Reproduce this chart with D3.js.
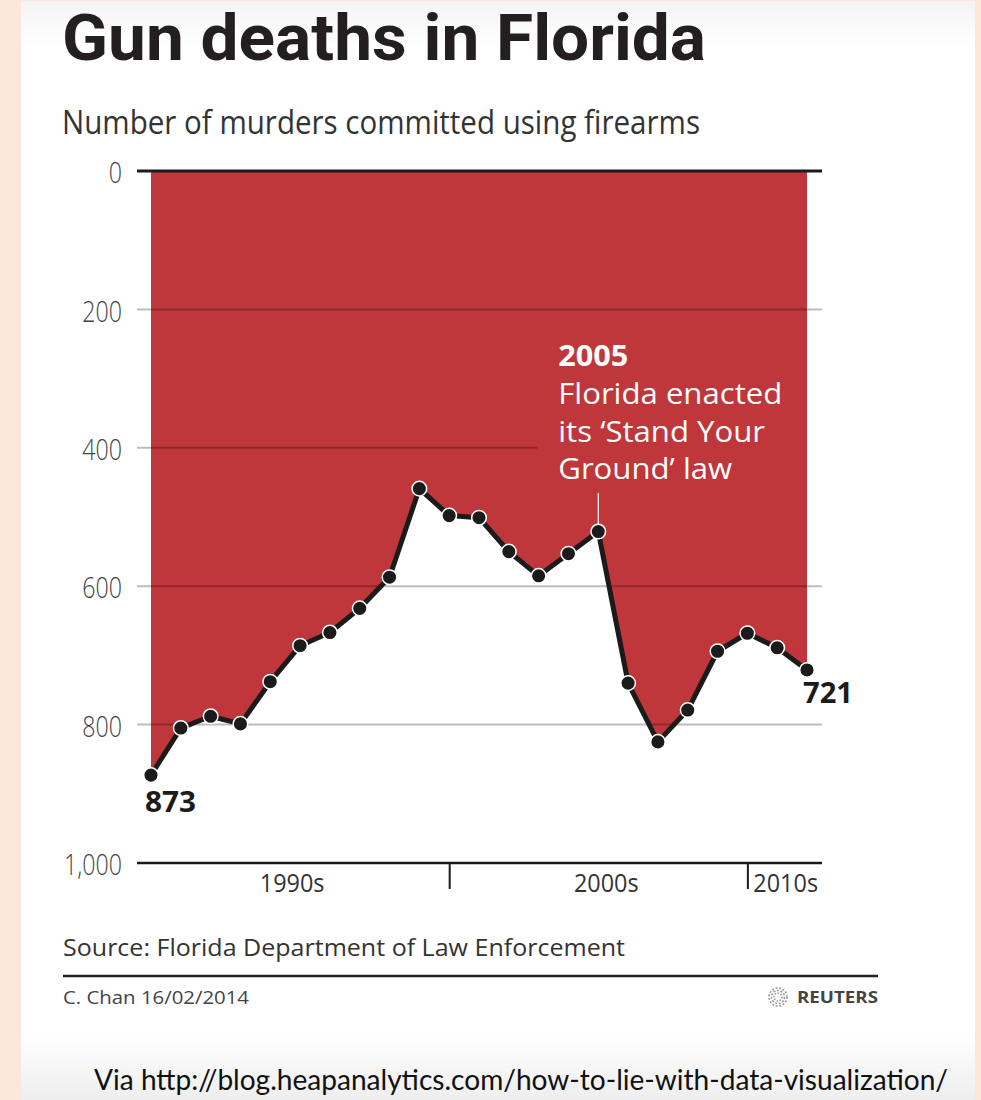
<!DOCTYPE html>
<html>
<head>
<meta charset="utf-8">
<script src="https://cdn.jsdelivr.net/npm/d3@7"></script>
<style>
  html, body { margin: 0; padding: 0; background: #fce7da; }
  svg { display: block; }
</style>
</head>
<body>
<script>
// ---------------- DATA ----------------
const years = [1990,1991,1992,1993,1994,1995,1996,1997,1998,1999,2000,2001,2002,2003,2004,2005,2006,2007,2008,2009,2010,2011,2012];
const murders = [873,805,788,799,738,686,667,632,587,459,498,501,550,585,553,521,740,825,779,694,668,689,721];
const yTicks = [0,200,400,600,800,1000];
const decadeTicks = [2000, 2010];
const decadeLabels = ["1990s","2000s","2010s"];
const titleText = "Gun deaths in Florida";
const subtitleText = "Number of murders committed using firearms";
const annotationYear = 2005;
const annotationLines = ["Florida enacted","its \u2018Stand Your","Ground\u2019 law"];
const sourceText = "Source: Florida Department of Law Enforcement";
const creditText = "C. Chan  16/02/2014";
const viaText = "Via http://blog.heapanalytics.com/how-to-lie-with-data-visualization/";

// ---------------- LAYOUT ----------------
const W = 981, H = 1100;
const FONT = "'Open Sans', 'Noto Sans', sans-serif";
const RED = "#bf363b";
const INK = "#1b1b1b";

const svg = d3.select("body").append("svg").attr("width", W).attr("height", H);
const defs = svg.append("defs");
const gTop = defs.append("linearGradient").attr("id","gTop").attr("x1",0).attr("x2",0).attr("y1",0).attr("y2",1);
gTop.append("stop").attr("offset",0).attr("stop-color","#f4f4f4");
gTop.append("stop").attr("offset",1).attr("stop-color","#ffffff");
const gBot = defs.append("linearGradient").attr("id","gBot").attr("x1",0).attr("x2",0).attr("y1",0).attr("y2",1);
gBot.append("stop").attr("offset",0).attr("stop-color","#ffffff");
gBot.append("stop").attr("offset",1).attr("stop-color","#eeeeee");

// background panel
svg.append("rect").attr("width",W).attr("height",H).attr("fill","#fce7da");
svg.append("rect").attr("x",21).attr("y",1).attr("width",954).attr("height",H-1).attr("fill","#fff");
svg.append("rect").attr("x",21).attr("y",1).attr("width",954).attr("height",45).attr("fill","url(#gTop)");
svg.append("rect").attr("x",21).attr("y",1035).attr("width",954).attr("height",65).attr("fill","url(#gBot)");

function fit(sel, w) {
  sel.attr("textLength", w).attr("lengthAdjust", "spacingAndGlyphs");
  return sel;
}
function squeeze(sel, f) {
  sel.each(function() {
    const L = this.getComputedTextLength();
    d3.select(this).attr("textLength", L * f).attr("lengthAdjust", "spacingAndGlyphs");
  });
  return sel;
}

// Title & subtitle
fit(svg.append("text").attr("x",62).attr("y",60)
  .attr("font-family","Roboto, 'Open Sans', sans-serif").attr("font-weight",700).attr("font-size",64)
  .attr("fill","#231f20").text(titleText), 644);
fit(svg.append("text").attr("x",62).attr("y",134)
  .attr("font-family",FONT).attr("font-weight",400).attr("font-size",33)
  .attr("fill","#333").text(subtitleText), 638);

// Scales
const plotL = 137, plotR = 822;
const x = d3.scaleLinear().domain([years[0], years[years.length-1]]).range([151, 807]);
const y = d3.scaleLinear().domain([0, 1000]).range([171, 863]);

const data = years.map((yr,i) => ({year: yr, value: murders[i]}));

// Red area (from 0 down to the line)
const area = d3.area().x(d => x(d.year)).y0(y(0)).y1(d => y(d.value));
svg.append("path").datum(data).attr("d", area).attr("fill", RED);

// annotation anchor
const annX = x(annotationYear) - 40;

// gridlines
svg.append("g").selectAll("line")
  .data(yTicks.filter(v => v > 0 && v < 1000))
  .join("line")
  .attr("x1", plotL)
  .attr("x2", v => v === 400 ? annX - 21 : plotR)
  .attr("y1", v => y(v)).attr("y2", v => y(v))
  .attr("stroke","rgba(0,0,0,0.26)").attr("stroke-width",2);

// zero line
svg.append("line").attr("x1",plotL).attr("x2",plotR).attr("y1",y(0)).attr("y2",y(0))
  .attr("stroke",INK).attr("stroke-width",3);

// Y axis labels via d3 axis
const yAxis = d3.axisLeft(y).tickValues(yTicks).tickFormat(d3.format(",")).tickSize(0).tickPadding(0);
const gy = svg.append("g").attr("transform", `translate(122,0)`).call(yAxis);
gy.select(".domain").remove();
gy.selectAll("text").attr("font-family",FONT).attr("font-size",29).attr("fill","#444")
  .attr("font-weight",300).attr("dy","0.4em");
squeeze(gy.selectAll("text"), 0.8);

// X axis
const xAxis = d3.axisBottom(x).tickValues(decadeTicks).tickFormat("").tickSize(26).tickSizeOuter(0);
const gx = svg.append("g").attr("transform", `translate(0,${y(1000)})`).call(xAxis);
gx.select(".domain").attr("d", `M${plotL},0H${plotR}`).attr("stroke",INK).attr("stroke-width",2.5);
gx.selectAll(".tick line").attr("stroke",INK).attr("stroke-width",2);

const decadePos = [
  {x: (x(1990) + x(decadeTicks[0]))/2 - 8, anchor: "middle"},
  {x: (x(decadeTicks[0]) + x(decadeTicks[1]))/2 + 8, anchor: "middle"},
  {x: x(decadeTicks[1]) + 6, anchor: "start"}
];
const dl = svg.append("g").selectAll("text").data(decadeLabels).join("text")
  .attr("x",(d,i) => decadePos[i].x).attr("y", y(1000) + 29)
  .attr("text-anchor",(d,i) => decadePos[i].anchor)
  .attr("font-family",FONT).attr("font-size",26).attr("fill","#333").text(d => d);
squeeze(dl, 0.9);

// Annotation
const ann = svg.append("g");
const annPt = data.find(d => d.year === annotationYear);
ann.append("line").attr("x1",x(annotationYear)).attr("x2",x(annotationYear))
  .attr("y1",493).attr("y2",y(annPt.value)-6).attr("stroke","#fff").attr("stroke-width",1.2);
fit(ann.append("text").attr("x",annX).attr("y",366).attr("font-family",FONT).attr("font-weight",700)
  .attr("font-size",28).attr("fill","#fff").text(String(annotationYear)), 70);
const annLines = ann.selectAll("text.l").data(annotationLines).join("text").attr("class","l")
  .attr("x",annX).attr("y",(d,i) => 404 + i*37.5)
  .attr("font-family",FONT).attr("font-weight",500).attr("font-size",29).attr("fill","#fff").text(d => d);
const annFactor = 224 / annLines.node().getComputedTextLength();
squeeze(annLines, annFactor);

// Line
const line = d3.line().x(d => x(d.year)).y(d => y(d.value));
svg.append("path").datum(data).attr("d", line).attr("fill","none")
  .attr("stroke",INK).attr("stroke-width",5).attr("stroke-linejoin","round");

// Points
svg.append("g").selectAll("circle").data(data).join("circle")
  .attr("cx", d => x(d.year)).attr("cy", d => y(d.value)).attr("r", 7.3)
  .attr("fill", INK).attr("stroke","#fff").attr("stroke-width",1.5);

// End labels
const first = data[0], last = data[data.length-1];
fit(svg.append("text").attr("x", x(first.year) - 6).attr("y", y(first.value) + 37)
  .attr("font-family",FONT).attr("font-weight",700).attr("font-size",28).attr("fill",INK)
  .text(first.value), 51);
fit(svg.append("text").attr("x", x(last.year) - 4).attr("y", y(last.value) + 33)
  .attr("font-family",FONT).attr("font-weight",700).attr("font-size",28).attr("fill",INK)
  .text(last.value), 50);

// Source & footer
fit(svg.append("text").attr("x",63).attr("y",956).attr("font-family",FONT)
  .attr("font-size",24).attr("fill","#333").text(sourceText), 562);
svg.append("line").attr("x1",63).attr("x2",878).attr("y1",976).attr("y2",976)
  .attr("stroke","#222").attr("stroke-width",2.5);
fit(svg.append("text").attr("x",63).attr("y",1004).attr("font-family",FONT)
  .attr("font-size",18).attr("fill","#444").text(creditText), 186);

// Reuters logo
const logo = svg.append("g").attr("transform","translate(778,997)");
[9, 6.5, 4].forEach((r,i) => {
  logo.append("circle").attr("r", r).attr("fill","none").attr("stroke","#999")
    .attr("stroke-width", 1.6).attr("stroke-dasharray", i === 2 ? "1.5 1.5" : "2 1.6");
});
fit(svg.append("text").attr("x",797).attr("y",1003).attr("font-family",FONT)
  .attr("font-weight",700).attr("font-size",16).attr("fill","#444").text("REUTERS"), 81);

// Via
fit(svg.append("text").attr("x",94).attr("y",1090).attr("font-family","Lato, 'Open Sans', sans-serif")
  .attr("font-size",28).attr("fill","#111").text(viaText), 854);
</script>
</body>
</html>
